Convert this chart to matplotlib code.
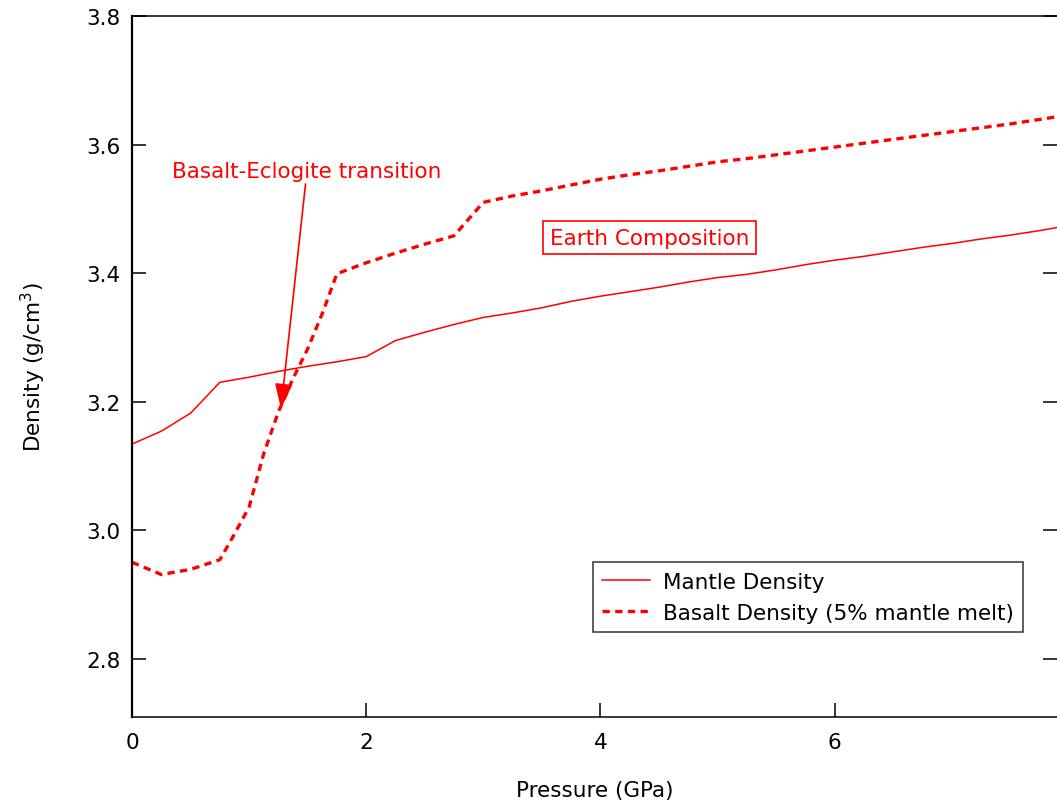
"""Mantle vs basalt density with pressure."""
import matplotlib
matplotlib.use('Agg')
import matplotlib.pyplot as plt

RED = '#ff0000'

pressure = [0.0, 0.25, 0.5, 0.75, 1.0, 1.25, 1.5, 1.75, 2.0, 2.25, 2.5, 2.75,
            3.0, 3.25, 3.5, 3.75, 4.0, 4.25, 4.5, 4.75, 5.0, 5.25, 5.5, 5.75,
            6.0, 6.25, 6.5, 6.75, 7.0, 7.25, 7.5, 7.75, 8.0]
mantle = [3.134, 3.154, 3.182, 3.230, 3.238, 3.247, 3.255, 3.262, 3.270, 3.295,
          3.308, 3.320, 3.331, 3.338, 3.346, 3.356, 3.364, 3.371, 3.378, 3.386,
          3.393, 3.398, 3.405, 3.413, 3.420, 3.426, 3.433, 3.440, 3.446, 3.453,
          3.459, 3.466, 3.474]

basalt_p = [0.0, 0.25, 0.5, 0.75, 0.875, 1.0, 1.125, 1.25, 1.375, 1.5, 1.625,
            1.75, 2.0, 2.25, 2.5, 2.75, 3.0, 3.25, 3.5, 3.75, 4.0, 4.25, 4.5,
            4.75, 5.0, 5.25, 5.5, 5.75, 6.0, 6.25, 6.5, 6.75, 7.0, 7.25, 7.5,
            7.75, 8.0]
basalt = [2.950, 2.931, 2.939, 2.954, 2.994, 3.036, 3.119, 3.184, 3.236, 3.282,
          3.337, 3.399, 3.416, 3.431, 3.445, 3.458, 3.510, 3.520, 3.528, 3.537,
          3.546, 3.553, 3.559, 3.566, 3.573, 3.578, 3.584, 3.590, 3.596, 3.602,
          3.608, 3.614, 3.620, 3.626, 3.632, 3.639, 3.646]

x_ticks = [0, 2, 4, 6]
y_ticks = [2.8, 3.0, 3.2, 3.4, 3.6, 3.8]

plt.rcParams['font.family'] = ['DejaVu Sans']
FS = 15.5

fig = plt.figure(figsize=(10.57, 8.04), dpi=100)
ax = fig.add_axes([0.1249, 0.1067, 0.8751, 0.8722])

ax.plot(pressure, mantle, color=RED, lw=1.1, label='Mantle Density')
ax.plot(basalt_p, basalt, color=RED, lw=2.4, dashes=(2.2, 1.6),
        label='Basalt Density (5% mantle melt)')

ax.set_xlim(0, 7.9)
ax.set_ylim(2.709, 3.8)
ax.set_xticks(x_ticks)
ax.set_yticks(y_ticks)
ax.set_xticklabels([str(t) for t in x_ticks])
ax.set_yticklabels([f'{t:.1f}' for t in y_ticks])

ax.tick_params(axis='x', direction='in', length=10, width=1.1, labelsize=FS,
               pad=11, top=False)
ax.tick_params(axis='y', direction='in', length=10, width=1.1, labelsize=FS,
               pad=8, right=True)
ax.spines['right'].set_visible(False)
ax.spines['left'].set_linewidth(1.6)
for s in ['top', 'bottom']:
    ax.spines[s].set_linewidth(1.1)

ax.set_xlabel('Pressure (GPa)', fontsize=FS, labelpad=20)
ax.set_ylabel('Density (g/cm$^3$)', fontsize=FS, labelpad=28)

ax.annotate('Basalt-Eclogite transition', xy=(1.272, 3.189), xytext=(1.494, 3.543),
            color=RED, fontsize=FS, ha='center', va='bottom',
            arrowprops=dict(arrowstyle='-|>,head_length=1.0,head_width=0.35',
                            color=RED, lw=1.2, shrinkA=0, shrinkB=0))

ax.text(4.42, 3.455, 'Earth Composition', color=RED, fontsize=FS,
        ha='center', va='center',
        bbox=dict(boxstyle='square,pad=0.3', fc='white', ec=RED, lw=1.2))

leg = ax.legend(loc='upper left', bbox_to_anchor=(0.498, 0.221), fontsize=FS,
                frameon=True, fancybox=False, handlelength=2.2,
                borderpad=0.45, labelspacing=0.5, handletextpad=0.6,
                borderaxespad=0)
leg.get_frame().set_edgecolor('black')
leg.get_frame().set_linewidth(1.1)

fig.savefig('out.png', dpi=100)
